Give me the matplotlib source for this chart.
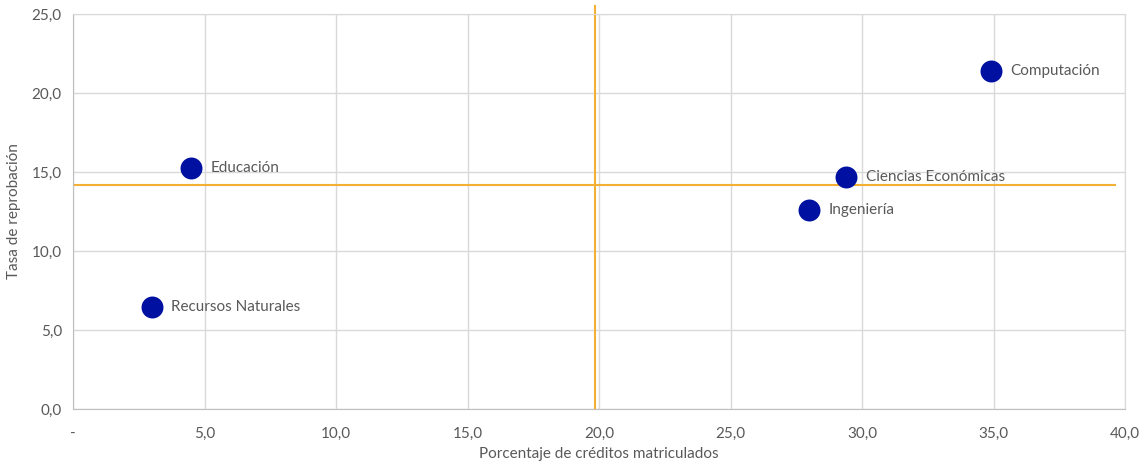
import matplotlib
matplotlib.use("Agg")
import matplotlib.pyplot as plt
from matplotlib.ticker import FuncFormatter

plt.rcParams['font.family'] = ['Lato', 'DejaVu Sans']

categories = ["Recursos Naturales", "Educación", "Ingeniería", "Ciencias Económicas", "Computación"]
x_vals = [3.0, 4.5, 28.0, 29.4, 34.9]
y_vals = [6.45, 15.25, 12.6, 14.7, 21.4]
x_ref = 19.85
y_ref = 14.15

fig = plt.figure(figsize=(11.46, 4.68), dpi=100)
ax = fig.add_axes([0.0637, 0.126, 0.9180, 0.844])

grid_c = '#d9d9d9'
txt_c = '#595959'
orange = '#F2B134'

ax.set_xlim(0, 40)
ax.set_ylim(0, 25)
ax.set_xticks(range(0, 41, 5))
ax.set_yticks(range(0, 26, 5))
ax.grid(True, color=grid_c, linewidth=1)
ax.set_axisbelow(True)
for s in ax.spines.values():
    s.set_color(grid_c)
ax.spines['left'].set_color('#bfbfbf')
ax.spines['bottom'].set_color('#bfbfbf')
ax.tick_params(length=0, labelsize=11, colors=txt_c)
ax.tick_params(axis='x', pad=13)
ax.tick_params(axis='y', pad=8)

def fmt(v, pos):
    if abs(v) < 1e-9:
        return '-'
    return f"{v:.1f}".replace('.', ',')

ax.xaxis.set_major_formatter(FuncFormatter(fmt))
ax.yaxis.set_major_formatter(FuncFormatter(lambda v, p: f"{v:.1f}".replace('.', ',')))

ax.plot([x_ref, x_ref], [0, 25.5], color=orange, linewidth=1.5, clip_on=False, zorder=2)
ax.plot([0, 39.6], [y_ref, y_ref], color=orange, linewidth=1.5, zorder=2)

ax.scatter(x_vals, y_vals, s=250, color='#0010A0', zorder=3, linewidths=0)
for c, xv, yv in zip(categories, x_vals, y_vals):
    ax.annotate(c, (xv, yv), xytext=(14, 0), textcoords='offset points',
                va='center', ha='left', fontsize=11, color=txt_c)

ax.set_xlabel("Porcentaje de créditos matriculados", fontsize=11, color=txt_c)
ax.set_ylabel("Tasa de reprobación", fontsize=11, color=txt_c)
ax.xaxis.set_label_coords(0.5, -0.115)
ax.yaxis.set_label_coords(-0.056, 0.5)
ax.yaxis.label.set_va('center')
ax.xaxis.label.set_va('center')

fig.savefig("out.png", dpi=100)
